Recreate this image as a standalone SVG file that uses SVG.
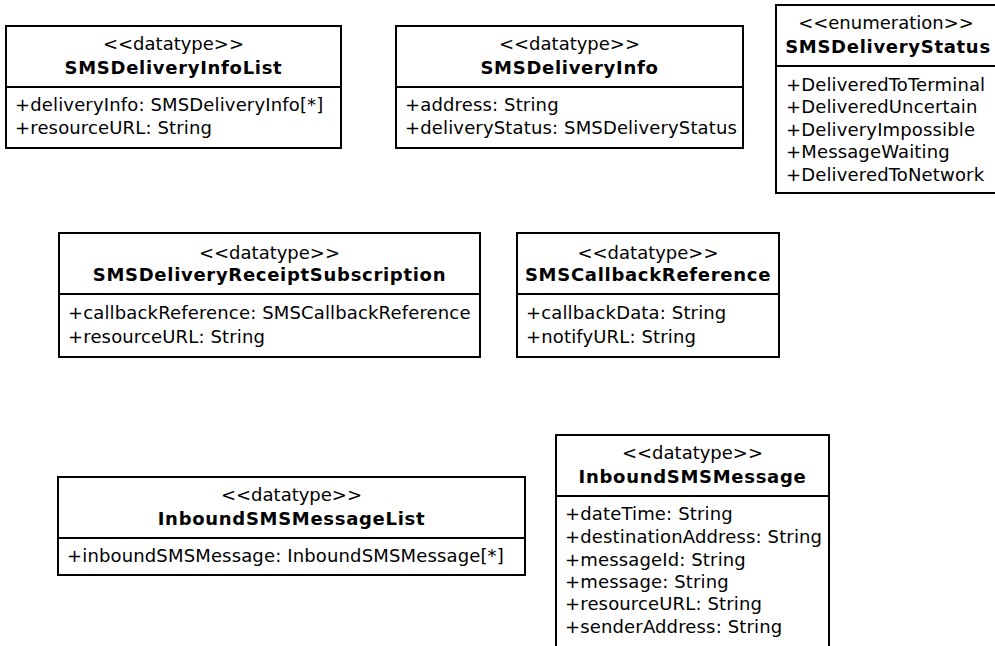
<svg xmlns="http://www.w3.org/2000/svg" width="995" height="646" viewBox="0 0 995 646">
<style>
.box{fill:#fff;stroke:#000;stroke-width:2}
.div{stroke:#000;stroke-width:2}
text{font-family:"DejaVu Sans","Verdana",sans-serif;font-size:18px;fill:#000;letter-spacing:0.15px}
.st{text-anchor:middle;letter-spacing:0}
.ti{text-anchor:middle;font-weight:bold;letter-spacing:0.7px}
</style>
<rect width="995" height="646" fill="#fff"/>
<g id="SMSDeliveryInfoList">
<rect class="box" x="6" y="26" width="335" height="122"/>
<line class="div" x1="6" y1="87" x2="341" y2="87"/>
<text class="st" x="173.5" y="50">&lt;&lt;datatype&gt;&gt;</text>
<text class="ti" x="173.5" y="74">SMSDeliveryInfoList</text>
<text x="15" y="111">+deliveryInfo: SMSDeliveryInfo[*]</text>
<text x="15" y="134">+resourceURL: String</text>
</g>
<g id="SMSDeliveryInfo">
<rect class="box" x="396" y="26" width="347" height="122"/>
<line class="div" x1="396" y1="87" x2="743" y2="87"/>
<text class="st" x="569.5" y="50">&lt;&lt;datatype&gt;&gt;</text>
<text class="ti" x="569.5" y="74">SMSDeliveryInfo</text>
<text x="405" y="111">+address: String</text>
<text x="405" y="134">+deliveryStatus: SMSDeliveryStatus</text>
</g>
<g id="SMSDeliveryStatus">
<rect class="box" x="776" y="5" width="240" height="188"/>
<line class="div" x1="776" y1="66" x2="1016" y2="66"/>
<text class="st" x="886" y="29">&lt;&lt;enumeration&gt;&gt;</text>
<text class="ti" x="888" y="53">SMSDeliveryStatus</text>
<text x="786" y="91">+DeliveredToTerminal</text>
<text x="786" y="113">+DeliveredUncertain</text>
<text x="786" y="136">+DeliveryImpossible</text>
<text x="786" y="158">+MessageWaiting</text>
<text x="786" y="181">+DeliveredToNetwork</text>
</g>
<g id="SMSDeliveryReceiptSubscription">
<rect class="box" x="59" y="233" width="421" height="124"/>
<line class="div" x1="59" y1="294" x2="480" y2="294"/>
<text class="st" x="269.5" y="259">&lt;&lt;datatype&gt;&gt;</text>
<text class="ti" x="269.5" y="281">SMSDeliveryReceiptSubscription</text>
<text x="68" y="319">+callbackReference: SMSCallbackReference</text>
<text x="68" y="343">+resourceURL: String</text>
</g>
<g id="SMSCallbackReference">
<rect class="box" x="517" y="233" width="262" height="124"/>
<line class="div" x1="517" y1="294" x2="779" y2="294"/>
<text class="st" x="648" y="259">&lt;&lt;datatype&gt;&gt;</text>
<text class="ti" x="648" y="281">SMSCallbackReference</text>
<text x="526" y="319">+callbackData: String</text>
<text x="526" y="343">+notifyURL: String</text>
</g>
<g id="InboundSMSMessageList">
<rect class="box" x="58" y="477" width="467" height="98"/>
<line class="div" x1="58" y1="538" x2="525" y2="538"/>
<text class="st" x="291.5" y="501">&lt;&lt;datatype&gt;&gt;</text>
<text class="ti" x="291.5" y="525">InboundSMSMessageList</text>
<text x="67" y="562">+inboundSMSMessage: InboundSMSMessage[*]</text>
</g>
<g id="InboundSMSMessage">
<rect class="box" x="556" y="435" width="273" height="230"/>
<line class="div" x1="556" y1="496" x2="829" y2="496"/>
<text class="st" x="692.5" y="459">&lt;&lt;datatype&gt;&gt;</text>
<text class="ti" x="692.5" y="483">InboundSMSMessage</text>
<text x="565" y="520">+dateTime: String</text>
<text x="565" y="543">+destinationAddress: String</text>
<text x="565" y="566">+messageId: String</text>
<text x="565" y="588">+message: String</text>
<text x="565" y="610">+resourceURL: String</text>
<text x="565" y="633">+senderAddress: String</text>
</g>
<g id="connectors"/>
</svg>
